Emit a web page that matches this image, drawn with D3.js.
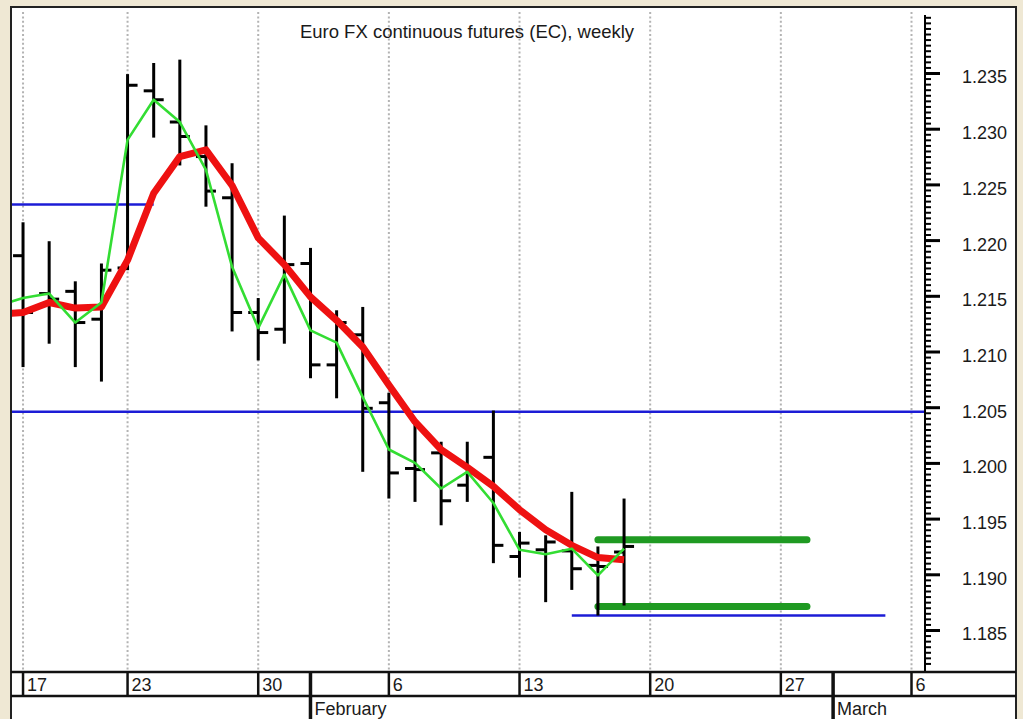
<!DOCTYPE html>
<html><head><meta charset="utf-8">
<script src="https://cdn.jsdelivr.net/npm/d3@7"></script>
<style>
body{margin:0;background:#efe8d4;}
svg{display:block;}
text{font-family:"Liberation Sans",Arial,Helvetica,sans-serif;fill:#1a1a1a;}
</style></head>
<body><svg id="chart" width="1023" height="719"></svg>
<script>
const title = "Euro FX continuous futures (EC), weekly";

const dates = ["2006-01-17","2006-01-18","2006-01-19","2006-01-20","2006-01-23","2006-01-24","2006-01-25","2006-01-26","2006-01-27",
  "2006-01-30","2006-01-31","2006-02-01","2006-02-02","2006-02-03","2006-02-06","2006-02-07","2006-02-08","2006-02-09","2006-02-10",
  "2006-02-13","2006-02-14","2006-02-15","2006-02-16","2006-02-17"];
const opens  = [1.2186,1.2152,1.2154,1.2129,1.2175,1.2334,1.2306,1.2275,1.2238,1.2135,1.2120,1.2179,1.2088,1.2115,1.2054,1.1995,1.2009,1.1980,1.2005,1.1916,1.1922,1.1921,1.1908,1.1920];
const highs  = [1.2216,1.2199,1.2163,1.2179,1.2349,1.2359,1.2362,1.2303,1.2269,1.2148,1.2222,1.2193,1.2137,1.2140,1.2063,1.2037,1.2019,1.2019,1.2047,1.1938,1.1935,1.1974,1.1925,1.1968];
const lows   = [1.2086,1.2107,1.2086,1.2073,1.2173,1.2292,1.2267,1.2230,1.2118,1.2092,1.2107,1.2076,1.2058,1.1992,1.1968,1.1965,1.1944,1.1965,1.1910,1.1897,1.1875,1.1886,1.1863,1.1872];
const closes = [1.2135,1.2147,1.2126,1.2173,1.2339,1.2326,1.2293,1.2244,1.2135,1.2117,1.2178,1.2088,1.2126,1.2049,1.1991,1.1994,1.1966,1.1991,1.1926,1.1928,1.1929,1.1905,1.1907,1.1925];

const maDates = ["2006-01-13"].concat(dates);
const fastMA = [1.2134,1.2148,1.2152,1.2126,1.2144,1.2290,1.2326,1.2306,1.2263,1.2176,1.2121,1.2169,1.2119,1.2108,1.2059,1.2012,1.2000,1.1977,1.1992,1.1964,1.1922,1.1918,1.1923,1.1899,1.1923];
const slowMA = [1.2132,1.2135,1.2144,1.2139,1.2140,1.2182,1.2242,1.2275,1.2281,1.2249,1.2202,1.2178,1.2149,1.2128,1.2104,1.2070,1.2037,1.2012,1.1996,1.1979,1.1958,1.1940,1.1926,1.1915,1.1913];

const blueLevels = [1.2232, 1.2046, 1.1863];
const blueFrom   = ["2006-01-10","2006-01-10","2006-02-15"];
const blueTo     = ["2006-01-24","2006-03-10","2006-03-03"];

const greenLevels = [1.1931, 1.1871];
const greenFrom   = ["2006-02-16","2006-02-16"];
const greenTo     = ["2006-02-28","2006-02-28"];

const dayTicks  = ["2006-01-17","2006-01-23","2006-01-30","2006-02-06","2006-02-13","2006-02-20","2006-02-27","2006-03-06"];
const dayLabels = ["17","23","30","6","13","20","27","6"];
const monthTicks  = ["2006-02-01","2006-03-01"];
const monthLabels = ["February","March"];

const yMajor = [1.185,1.190,1.195,1.200,1.205,1.210,1.215,1.220,1.225,1.230,1.235];
const yMinorStep = 0.0005, yMinorFrom = 1.1820, yMinorTo = 1.2400;

// ---- helpers
const parse = d3.utcParse("%Y-%m-%d");
const base = parse("2006-01-16");
function wd(s){
  const n = d3.utcDay.count(base, parse(s));
  const w = Math.floor(n/7), r = ((n%7)+7)%7;
  return w*5 + Math.min(r,5);
}

// ---- layout
const frame = {left:11, top:7, right:1016};
const plot = {left:11, right:925, top:8, bottom:672};
const rowDay = {top:672, bottom:696};

const x = d3.scaleLinear().domain([0,35]).range([-3.1,911.5]);
const y = d3.scaleLinear().domain([1.185,1.235]).range([630,73]);

const svg = d3.select("#chart");

svg.append("rect").attr("x",frame.left).attr("y",frame.top)
  .attr("width",frame.right-frame.left).attr("height",740)
  .attr("fill","#fff").attr("stroke","#222").attr("stroke-width",2);

svg.append("clipPath").attr("id","pc").append("rect")
  .attr("x",plot.left+1).attr("y",plot.top).attr("width",plot.right-plot.left-1).attr("height",plot.bottom-plot.top);

const g = svg.append("g").attr("clip-path","url(#pc)");

// dotted grid
g.selectAll("line.grid").data(dayTicks).join("line")
  .attr("x1",d=>x(wd(d))).attr("x2",d=>x(wd(d)))
  .attr("y1",12).attr("y2",plot.bottom)
  .attr("stroke","#b3b3b3").attr("stroke-width",2).attr("stroke-dasharray","2,2.4");

// blue lines
g.selectAll("line.blue").data(blueLevels).join("line")
  .attr("x1",(d,i)=>x(wd(blueFrom[i]))).attr("x2",(d,i)=>x(wd(blueTo[i])))
  .attr("y1",d=>y(d)).attr("y2",d=>y(d))
  .attr("stroke","#1c1cd6").attr("stroke-width",2.5);

// green target lines
g.selectAll("line.tg").data(greenLevels).join("line")
  .attr("x1",(d,i)=>x(wd(greenFrom[i]))).attr("x2",(d,i)=>x(wd(greenTo[i])))
  .attr("y1",d=>y(d)).attr("y2",d=>y(d))
  .attr("stroke","#1f9a22").attr("stroke-width",7).attr("stroke-linecap","round");

// OHLC bars
const bars = g.selectAll("g.bar").data(dates).join("g");
bars.append("line")
  .attr("x1",d=>x(wd(d))).attr("x2",d=>x(wd(d)))
  .attr("y1",(d,i)=>y(highs[i])).attr("y2",(d,i)=>y(lows[i]))
  .attr("stroke","#000").attr("stroke-width",3);
bars.append("line")
  .attr("x1",d=>x(wd(d))-10).attr("x2",d=>x(wd(d)))
  .attr("y1",(d,i)=>y(opens[i])).attr("y2",(d,i)=>y(opens[i]))
  .attr("stroke","#000").attr("stroke-width",3);
bars.append("line")
  .attr("x1",d=>x(wd(d))).attr("x2",d=>x(wd(d))+10)
  .attr("y1",(d,i)=>y(closes[i])).attr("y2",(d,i)=>y(closes[i]))
  .attr("stroke","#000").attr("stroke-width",3);

// moving averages
const lineGen = arr => d3.line().x((d,i)=>x(wd(maDates[i]))).y((d,i)=>y(arr[i]))(arr);
g.append("path").attr("d",lineGen(slowMA)).attr("fill","none")
  .attr("stroke","#ee1111").attr("stroke-width",7).attr("stroke-linejoin","round");
g.append("path").attr("d",lineGen(fastMA)).attr("fill","none")
  .attr("stroke","#33dd33").attr("stroke-width",2.6).attr("stroke-linejoin","round");

// title
svg.append("text").attr("x",467).attr("y",38).attr("text-anchor","middle")
  .style("font-size","18.5px").text(title);

// right axis
svg.append("line").attr("x1",plot.right).attr("x2",plot.right).attr("y1",15).attr("y2",plot.bottom)
  .attr("stroke","#000").attr("stroke-width",2);
const minorVals = d3.range(Math.round((yMinorTo-yMinorFrom)/yMinorStep)+1).map(i=>yMinorFrom+i*yMinorStep);
const minorAxis = d3.axisRight(y).tickValues(minorVals).tickSize(6).tickFormat("");
const ma = svg.append("g").attr("transform",`translate(${plot.right},0)`).call(minorAxis);
ma.select(".domain").remove();
ma.selectAll("line").attr("stroke","#000").attr("stroke-width",2);
const majorAxis = d3.axisRight(y).tickValues(yMajor).tickSize(15).tickPadding(22).tickFormat(d3.format(".3f"));
const mj = svg.append("g").attr("transform",`translate(${plot.right},0)`).call(majorAxis);
mj.select(".domain").remove();
mj.selectAll("line").attr("stroke","#000").attr("stroke-width",3);
mj.selectAll("text").attr("fill","#1a1a1a").style("font-size","18px")
  .style("font-family",'"Liberation Sans",Arial,sans-serif').attr("dy","0.55em");

// date rows
svg.append("line").attr("x1",frame.left).attr("x2",frame.right).attr("y1",rowDay.top).attr("y2",rowDay.top)
  .attr("stroke","#111").attr("stroke-width",2.5);
svg.append("line").attr("x1",frame.left).attr("x2",frame.right).attr("y1",rowDay.bottom).attr("y2",rowDay.bottom)
  .attr("stroke","#111").attr("stroke-width",2.5);
svg.selectAll("line.dd").data(dayTicks).join("line")
  .attr("x1",d=>x(wd(d))).attr("x2",d=>x(wd(d)))
  .attr("y1",rowDay.top).attr("y2",rowDay.bottom)
  .attr("stroke","#111").attr("stroke-width",2.5);
svg.selectAll("text.dl").data(dayLabels).join("text")
  .attr("x",(d,i)=>x(wd(dayTicks[i]))+4).attr("y",691)
  .style("font-size","18px").text(d=>d);
svg.selectAll("line.md").data(monthTicks).join("line")
  .attr("x1",d=>x(wd(d))).attr("x2",d=>x(wd(d)))
  .attr("y1",rowDay.top).attr("y2",719)
  .attr("stroke","#111").attr("stroke-width",3.5);
svg.selectAll("text.ml").data(monthLabels).join("text")
  .attr("x",(d,i)=>x(wd(monthTicks[i]))+4).attr("y",715)
  .style("font-size","18px").text(d=>d);
</script></body></html>
